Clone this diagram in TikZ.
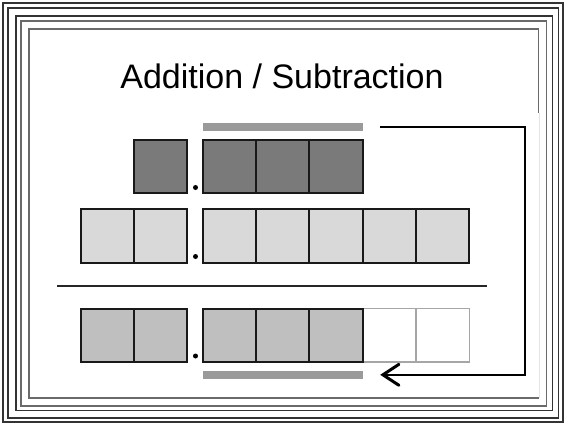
\documentclass[tikz,border=0pt]{standalone}
\usepackage{fontspec}
\setmainfont{Liberation Sans}
\usetikzlibrary{arrows.meta}
\definecolor{framedark}{HTML}{333333}
\definecolor{framegray}{HTML}{6A6A6A}
\definecolor{topfill}{HTML}{7A7A7A}
\definecolor{midfill}{HTML}{D9D9D9}
\definecolor{lowfill}{HTML}{BFBFBF}
\definecolor{barfill}{HTML}{9A9A9A}
\begin{document}
\begin{tikzpicture}[x=1pt,y=-1pt,
  cell/.style={draw=black!90, line width=1.9pt, minimum width=53.3pt,
    minimum height=53.3pt, inner sep=0pt, outer sep=0pt, anchor=north west},
  emptycell/.style={cell, draw=black!35, line width=1.3pt, fill=white},
  bar/.style={fill=barfill, draw=none, minimum width=160pt, minimum height=8pt,
    inner sep=0pt, outer sep=0pt, anchor=north west},
  pointdot/.style={circle, fill=black, inner sep=0pt, minimum size=5pt},
  frameline/.style={line width=1.5pt}]
\useasboundingbox (0,0) rectangle (565,424);

% nested frame
\draw[frameline, framedark, line width=2pt] (2.5,2.5) rectangle (563,422);
\draw[frameline, framedark] (8,8) rectangle (558.5,418);
\draw[frameline, framedark] (16,16) rectangle (552.5,410.5);
\draw[frameline, framegray] (21,21) rectangle (546.5,406);
\draw[frameline, framegray] (538.5,113) -- (538.5,29) -- (29,29) -- (29,398) -- (539,398);
\draw[line width=0.8pt, black!10] (539.5,113) -- (539.5,398);

% title
\node[font=\fontsize{34}{40}\selectfont, anchor=base] (title) at (282,88) {Addition / Subtraction};

% first number
\node[bar] (topbar) at (202.7,123.3) {};
\node[cell, fill=topfill] (a0) at (134,140) {};
\foreach \i/\x in {1/202.7,2/256,3/309.3}
  \node[cell, fill=topfill] (a\i) at (\x,140) {};
\node[pointdot] (adot) at (195.5,187.5) {};

% second number
\foreach \i/\x in {0/80.7,1/134}
  \node[cell, fill=midfill] (b\i) at (\x,209.3) {};
\foreach \i/\x in {2/202.7,3/256,4/309.3,5/362.7,6/416}
  \node[cell, fill=midfill] (b\i) at (\x,209.3) {};
\node[pointdot] (bdot) at (195.5,256.5) {};

% result line
\coordinate (ruleL) at (57,285.8);
\coordinate (ruleR) at (487,285.8);
\draw[line width=1.7pt, black!85] (ruleL) -- (ruleR);

% result
\foreach \i/\x in {5/362.7,6/416}
  \node[emptycell] (c\i) at (\x,308.7) {};
\foreach \i/\x in {0/80.7,1/134}
  \node[cell, fill=lowfill] (c\i) at (\x,308.7) {};
\foreach \i/\x in {2/202.7,3/256,4/309.3}
  \node[cell, fill=lowfill] (c\i) at (\x,308.7) {};
\node[pointdot] (cdot) at (195.5,356) {};
\node[bar] (botbar) at (202.7,370.8) {};

% carry-over arrow
\draw[line width=1.8pt, black,
  -{Straight Barb[length=16pt, width=21pt, line width=3pt, line cap=round]}]
  ([xshift=17pt]topbar.east) -- ++(145.5,0) |- ([xshift=17.5pt]botbar.east);
\end{tikzpicture}
\end{document}
